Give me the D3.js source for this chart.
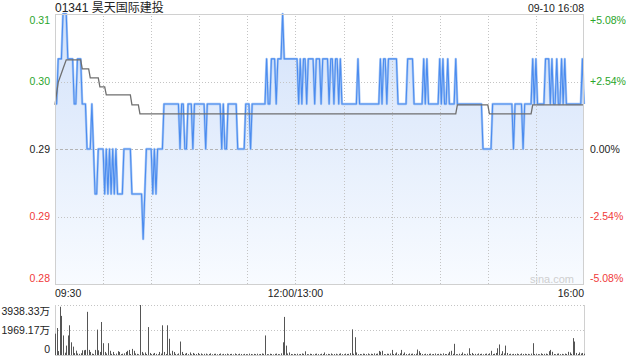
<!DOCTYPE html>
<html><head><meta charset="utf-8">
<script src="https://cdn.jsdelivr.net/npm/d3@7"></script>
<style>
html,body{margin:0;padding:0;background:#fff;}
svg{display:block;font-family:"Liberation Sans",Arial,"Noto Sans CJK SC",sans-serif;}
</style></head><body><svg id="c" width="640" height="360"></svg>
<script>
const title = "01341 昊天国际建投";
const stamp = "09-10 16:08";
const prevClose = 0.295;
const pctLimit = 5.08;
const pctTicks = [5.08, 2.54, 0, -2.54, -5.08];
const priceTickLabels = ["0.31", "0.30", "0.29", "0.29", "0.28"];
const pctTickLabels = ["+5.08%", "+2.54%", "0.00%", "-2.54%", "-5.08%"];
const timeLabels = ["09:30", "12:00/13:00", "16:00"];
const timeLabelMinutes = [0, 150, 330];
const gridMinutes = [30, 60, 90, 120, 150, 180, 210, 240, 270, 300];
const volTicks = [3938.33, 1969.17, 0];
const volTickLabels = ["3938.33万", "1969.17万", "0"];
const volMax = 3938.33;

// minute-by-minute last price (09:30 .. 16:00, lunch break removed)
const price = [
.3,.3,.305,.305,.305,.31,.31,.31,.305,.305,
.305,.305,.3,.3,.305,.305,.305,.3,.3,.3,
.295,.295,.295,.3,.295,.29,.29,.295,.295,.295,
.295,.29,.295,.29,.295,.29,.295,.29,.295,.29,
.29,.29,.29,.295,.295,.295,.295,.295,.29,.29,
.29,.29,.29,.29,.29,.285,.29,.295,.295,.295,
.295,.29,.295,.29,.295,.295,.295,.295,.3,.3,
.3,.3,.3,.3,.3,.3,.3,.3,.295,.3,
.3,.295,.295,.3,.3,.3,.295,.3,.3,.3,
.3,.3,.3,.3,.295,.3,.3,.3,.3,.3,
.3,.3,.3,.3,.295,.3,.295,.295,.3,.3,
.3,.3,.3,.3,.295,.295,.295,.295,.295,.3,
.3,.3,.295,.3,.3,.3,.3,.3,.3,.3,
.3,.3,.305,.3,.3,.305,.305,.305,.3,.305,
.305,.305,.31,.305,.305,.305,.305,.305,.305,.305,
.305,.305,.3,.305,.3,.305,.305,.3,.305,.305,
.305,.305,.3,.305,.305,.305,.3,.305,.305,.305,
.305,.3,.305,.305,.3,.305,.305,.3,.305,.3,
.3,.3,.3,.3,.3,.3,.3,.3,.3,.305,
.3,.3,.3,.3,.3,.3,.3,.3,.3,.3,
.3,.3,.3,.305,.3,.305,.305,.3,.305,.305,
.305,.305,.305,.305,.3,.3,.3,.3,.3,.3,
.305,.305,.305,.305,.3,.3,.3,.3,.3,.3,
.305,.3,.305,.3,.3,.3,.3,.3,.3,.3,
.305,.3,.305,.3,.3,.305,.3,.3,.3,.3,
.305,.3,.3,.3,.3,.3,.3,.3,.3,.3,
.3,.3,.3,.3,.3,.3,.3,.295,.295,.295,
.295,.295,.295,.3,.3,.3,.3,.3,.3,.3,
.3,.3,.3,.3,.3,.3,.295,.3,.3,.3,
.3,.3,.295,.3,.3,.3,.3,.3,.305,.3,
.305,.3,.3,.3,.3,.3,.305,.305,.305,.3,
.305,.3,.3,.305,.3,.3,.305,.3,.305,.3,
.3,.3,.3,.3,.3,.3,.3,.3,.3,.305,
.3
];

// average price line points
const avgMinutes = [0, 2, 5, 7, 16, 17, 21, 22, 27, 28, 31, 32, 47, 48, 52, 53, 250, 251, 270, 271, 297, 298, 330];
const avgValues = [0.2999, 0.3024, 0.3039, 0.3049, 0.3049, 0.3039, 0.3039, 0.3029, 0.3029, 0.3019, 0.3019, 0.3010, 0.3010, 0.2999, 0.2999, 0.2989, 0.2989, 0.2999, 0.2999, 0.2989, 0.2989, 0.2999, 0.2999];

// minute volume, 万股
const volume = [
1680,2125,310,3800,3080,1540,180,740,1540,2340,
1000,660,150,340,120,90,140,370,370,400,
3400,400,240,110,80,400,2000,370,240,2600,
930,240,120,930,330,90,240,60,110,300,
240,70,100,130,240,330,400,80,480,330,
120,90,60,3938.33,240,110,200,80,2200,160,
70,100,160,90,60,240,110,2340,240,80,
2340,1280,100,330,240,90,60,120,1060,240,
80,100,160,70,200,60,160,90,80,160,
70,120,60,90,110,50,80,130,60,90,
100,60,80,120,50,90,70,110,60,80,
90,50,120,70,60,100,80,50,90,70,
60,110,80,50,90,70,100,60,80,120,
90,1540,70,60,100,80,50,90,110,70,
60,130,1000,3000,740,120,200,80,60,90,
70,100,60,80,120,90,290,70,60,100,
80,50,90,110,70,60,100,80,200,60,
90,70,120,60,80,100,50,90,130,70,
60,110,80,90,150,2020,100,1400,200,70,
80,60,110,90,70,120,60,100,80,130,
90,110,320,250,330,70,60,100,90,120,
400,80,110,200,70,130,400,90,200,80,
60,120,90,110,70,100,430,300,160,80,
60,100,70,90,110,60,80,120,70,90,
100,60,130,80,70,110,250,330,90,880,
70,60,100,80,200,90,60,110,530,80,
160,70,90,60,120,80,100,60,90,110,
70,130,330,80,100,160,530,830,90,300,
120,740,160,70,100,60,90,80,110,70,
60,120,80,100,70,90,60,110,930,80,
100,70,60,130,80,90,110,70,300,400,
250,80,60,100,120,70,90,60,110,80,
250,200,90,1330,1060,160,80,200,120,160,
100
];

const svg = d3.select("#c");
const L = 55, R = 584, T = 14, B = 284;
const VT = 305, VB = 355;
const green = "#2aa52a", red = "#f03a3a";

const x = d3.scaleLinear().domain([0, 330]).range([L, R]);
const yPct = d3.scaleLinear().domain([-pctLimit, pctLimit]).range([B, T]);
const y = d3.scaleLinear().domain([prevClose * (1 - pctLimit / 100), prevClose * (1 + pctLimit / 100)]).range([B, T]);
const yV = d3.scaleLinear().domain([0, volMax]).range([VB, VT]);

// gradient
const defs = svg.append("defs");
const grad = defs.append("linearGradient").attr("id", "g").attr("x1", 0).attr("y1", 0).attr("x2", 0).attr("y2", 1)
  .attr("gradientUnits", "userSpaceOnUse").attr("x1", 0).attr("y1", T).attr("x2", 0).attr("y2", B);
grad.append("stop").attr("offset", 0).attr("stop-color", "#d3e2fa");
grad.append("stop").attr("offset", 1).attr("stop-color", "#f8fbff");

// area fill
svg.append("path").datum(price)
  .attr("d", d3.area().x((d, i) => x(i)).y0(B).y1(d => y(d)))
  .attr("fill", "url(#g)");

// vertical grid
const vg = svg.append("g").attr("transform", `translate(0,${B})`)
  .call(d3.axisBottom(x).tickValues(gridMinutes).tickSize(-(B - T)).tickFormat(""));
vg.select(".domain").remove();
vg.selectAll("line").attr("stroke", "#c4c4c4").attr("stroke-dasharray", "1,2").attr("shape-rendering", "crispEdges");

// horizontal grid
const hg = svg.append("g").attr("transform", `translate(${L},0)`)
  .call(d3.axisLeft(yPct).tickValues([2.54, -2.54]).tickSize(-(R - L)).tickFormat(""));
hg.select(".domain").remove();
hg.selectAll("line").attr("stroke", "#c4c4c4").attr("stroke-dasharray", "1,2").attr("shape-rendering", "crispEdges");
const zg = svg.append("g").attr("transform", `translate(${L},0)`)
  .call(d3.axisLeft(yPct).tickValues([0]).tickSize(-(R - L)).tickFormat(""));
zg.select(".domain").remove();
zg.selectAll("line").attr("stroke", "#b4b4b4").attr("stroke-dasharray", "3,2").attr("shape-rendering", "crispEdges");

// price line
svg.append("path").datum(price)
  .attr("d", d3.line().x((d, i) => x(i)).y(d => y(d)))
  .attr("fill", "none").attr("stroke", "#a9c8f5").attr("stroke-width", 2.4).attr("stroke-linejoin", "round");
svg.append("path").datum(price)
  .attr("d", d3.line().x((d, i) => x(i)).y(d => y(d)))
  .attr("fill", "none").attr("stroke", "#4b8cef").attr("stroke-width", 1.1).attr("stroke-linejoin", "round");

// avg line
svg.append("path").datum(avgMinutes)
  .attr("d", d3.line().x(d => x(d)).y((d, i) => y(avgValues[i])))
  .attr("fill", "none").attr("stroke", "#6f6f6f").attr("stroke-width", 1.3);

// frame
svg.append("rect").attr("x", L + 0.5).attr("y", T + 0.5).attr("width", R - L - 1).attr("height", B - T)
  .attr("fill", "none").attr("stroke", "#d0d0d0");

// texts
svg.append("text").attr("x", L).attr("y", 11.5).attr("font-size", 12).attr("fill", "#222").text(title);
svg.append("text").attr("x", R).attr("y", 11.5).attr("font-size", 10.5).attr("fill", "#222").attr("text-anchor", "end").text(stamp);

const lblColor = v => v > 0 ? green : (v < 0 ? red : "#222");
const edgeShift = v => v === pctLimit ? 6 : (v === -pctLimit ? -6 : 0);
pctTicks.forEach((v, i) => {
  svg.append("text").attr("x", 50).attr("y", yPct(v) + edgeShift(v)).attr("dy", "0.36em")
    .attr("text-anchor", "end").attr("font-size", 10.5).attr("fill", lblColor(v)).text(priceTickLabels[i]);
  svg.append("text").attr("x", 590).attr("y", yPct(v) + edgeShift(v)).attr("dy", "0.36em")
    .attr("text-anchor", "start").attr("font-size", 10.5).attr("fill", lblColor(v)).text(pctTickLabels[i]);
});

const anchors = ["start", "middle", "end"];
timeLabels.forEach((t, i) => {
  svg.append("text").attr("x", x(timeLabelMinutes[i])).attr("y", 293.5).attr("dy", "0.36em")
    .attr("text-anchor", anchors[i]).attr("font-size", 10.5).attr("fill", "#222").text(t);
});

svg.append("text").attr("x", 574).attr("y", 279.5).attr("dy", "0.36em").attr("text-anchor", "end")
  .attr("font-size", 11).attr("fill", "#cfcfcf").text("sina.com");

// volume panel
const vgr = svg.append("g").attr("transform", `translate(${L},0)`)
  .call(d3.axisLeft(yV).tickValues([volTicks[0], volTicks[1]]).tickSize(-(R - L)).tickFormat(""));
vgr.select(".domain").remove();
vgr.selectAll("line").attr("stroke", "#c4c4c4").attr("stroke-dasharray", "1,2").attr("shape-rendering", "crispEdges");
svg.append("line").attr("x1", R + 0.5).attr("x2", R + 0.5).attr("y1", VT).attr("y2", VB + 1).attr("stroke", "#d0d0d0");
svg.append("line").attr("x1", L + 0.5).attr("x2", L + 0.5).attr("y1", VT).attr("y2", VB + 1).attr("stroke", "#d0d0d0");
svg.append("line").attr("x1", L).attr("x2", R + 1).attr("y1", VB + 0.5).attr("y2", VB + 0.5).attr("stroke", "#d0d0d0");

svg.append("g").selectAll("line").data(volume).join("line")
  .attr("x1", (d, i) => Math.round(x(i)) + 0.5).attr("x2", (d, i) => Math.round(x(i)) + 0.5)
  .attr("y1", yV(0)).attr("y2", d => yV(d))
  .attr("stroke", "#555").attr("stroke-width", 1);

volTicks.forEach((v, i) => {
  const sh = i === 0 ? 6 : (i === 2 ? -6 : 0);
  svg.append("text").attr("x", 50).attr("y", yV(v) + sh).attr("dy", "0.36em").attr("text-anchor", "end")
    .attr("font-size", 10.5).attr("fill", "#222").text(volTickLabels[i]);
});
</script></body></html>
